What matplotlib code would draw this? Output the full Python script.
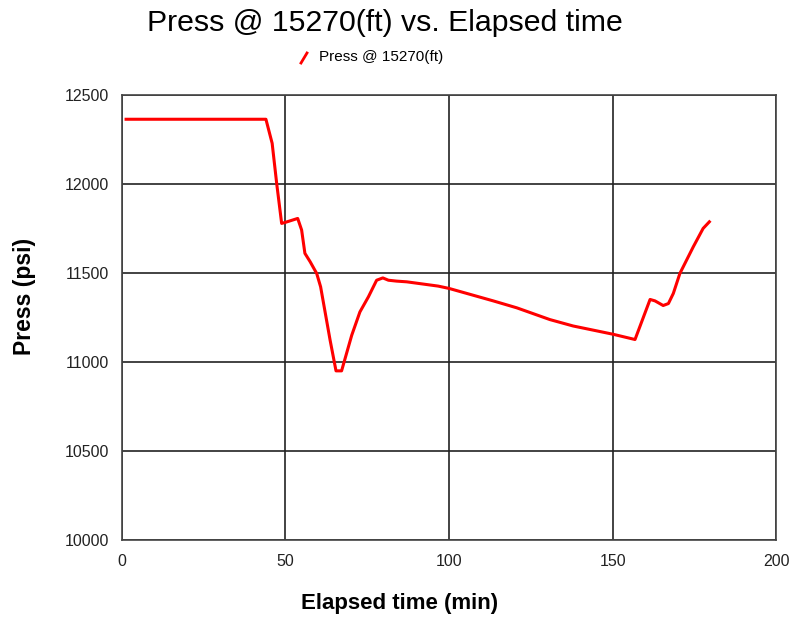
import matplotlib.pyplot as plt
from matplotlib.lines import Line2D

plt.rcParams['font.family'] = ['Liberation Sans', 'DejaVu Sans']

# Data
elapsed_min = [1.4, 44.1, 46.0, 47.4, 48.9, 50.2, 53.8, 55.0, 56.0, 57.6, 59.6,
               60.8, 63.7, 65.5, 67.2, 70.3, 72.8, 75.4, 77.9, 79.8, 81.5, 84.0,
               87.1, 96.7, 100.0, 105.4, 113.5, 120.7, 130.8, 137.9, 150.0,
               156.8, 161.4, 162.9, 165.4, 167.0, 168.5, 170.5, 174.6, 177.6, 179.5]
press_psi = [12363, 12363, 12228, 12000, 11778, 11785, 11806, 11741, 11610, 11563, 11497,
             11422, 11122, 10950, 10950, 11150, 11281, 11366, 11459, 11472, 11459, 11454,
             11450, 11426, 11413, 11385, 11343, 11304, 11238, 11202, 11156,
             11126, 11351, 11343, 11317, 11328, 11385, 11497, 11647, 11750, 11787]
x_ticks = [0, 50, 100, 150, 200]
y_ticks = [10000, 10500, 11000, 11500, 12000, 12500]
series_name = 'Press @ 15270(ft)'

fig = plt.figure(figsize=(7.9, 6.2), dpi=100)
ax = fig.add_axes([0.1538, 0.129, 0.8291, 0.718])

ax.plot(elapsed_min, press_psi, color='#ff0000', linewidth=2.2)

ax.set_xlim(0, 200)
ax.set_ylim(10000, 12500)
ax.set_xticks(x_ticks)
ax.set_yticks(y_ticks)
ax.grid(True, color='#222222', linewidth=1.2)
ax.set_axisbelow(True)
ax.tick_params(length=0, labelsize=11.5, colors='#222222')
ax.tick_params(axis='x', pad=10)
ax.tick_params(axis='y', pad=9)
for s in ax.spines.values():
    s.set_color('#444444')
    s.set_linewidth(1.2)

fig.text(385 / 790, 1 - 23 / 620, 'Press @ 15270(ft) vs. Elapsed time',
         ha='center', va='center', fontsize=21.8)
fig.text(400 / 790, 1 - 603 / 620, 'Elapsed time (min)',
         ha='center', va='center', fontsize=16, fontweight='bold')
fig.text(24 / 790, 1 - 296 / 620, 'Press (psi)', rotation=90,
         ha='center', va='center', fontsize=16.5, fontweight='bold')

# legend: short slanted red stroke + label
fig.add_artist(Line2D([301 / 790, 307 / 790], [1 - 63 / 620, 1 - 53 / 620],
                      color='#ff0000', linewidth=2))
fig.text(319 / 790, 1 - 57 / 620, series_name, ha='left', va='center', fontsize=11)

fig.savefig('out.png', dpi=100)
